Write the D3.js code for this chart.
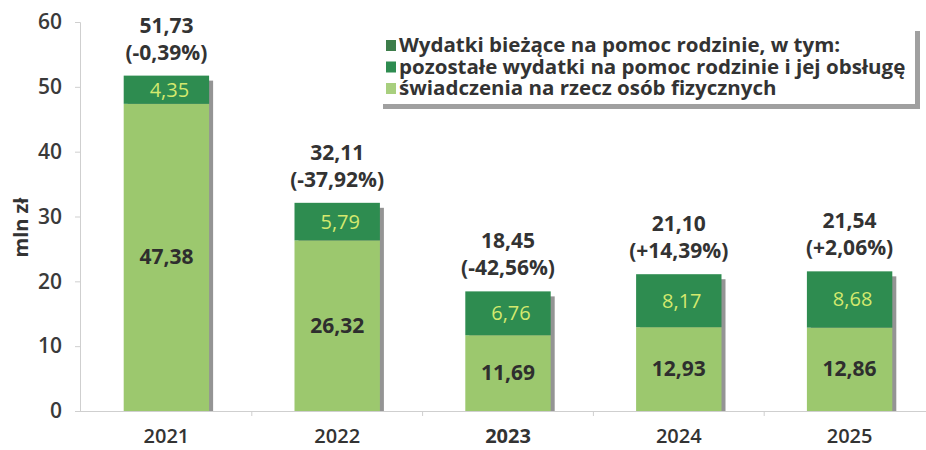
<!DOCTYPE html>
<html>
<head>
<meta charset="utf-8">
<script src="https://cdn.jsdelivr.net/npm/d3@7"></script>
<style>
  body { margin: 0; background: #fff; }
  text { font-family: "Open Sans", sans-serif; }
</style>
</head>
<body>
<div id="chart"></div>
<script>
// data
const years = ["2021", "2022", "2023", "2024", "2025"];
const benefits = [47.38, 26.32, 11.69, 12.93, 12.86];   // świadczenia na rzecz osób fizycznych
const otherCosts = [4.35, 5.79, 6.76, 8.17, 8.68];      // pozostałe wydatki
const totals = ["51,73", "32,11", "18,45", "21,10", "21,54"];
const changes = ["(-0,39%)", "(-37,92%)", "(-42,56%)", "(+14,39%)", "(+2,06%)"];
const yTicks = [0, 10, 20, 30, 40, 50, 60];
const legendLabels = [
  "Wydatki bieżące na pomoc rodzinie, w tym:",
  "pozostałe wydatki na pomoc rodzinie i jej obsługę",
  "świadczenia na rzecz osób fizycznych"
];

const W = 926, H = 450;
const margin = {top: 22, right: 0, bottom: 39, left: 80};

const svg = d3.select("#chart").append("svg")
  .attr("width", W).attr("height", H);

const fmt = v => v.toFixed(2).replace(".", ",");

const x = d3.scaleBand().domain(years)
  .range([81, 935]).paddingInner(0.5).paddingOuter(0.25);
const y = d3.scaleLinear().domain([0, 60]).range([H - margin.bottom, margin.top]);

const darkGreen = "#2e8c50";
const lightGreen = "#9cc86e";
const axisGrey = "#cfcfcf";

// y axis
const yAxis = svg.append("g")
  .attr("transform", "translate(" + margin.left + ",0)")
  .call(d3.axisLeft(y).tickValues(yTicks).tickSize(5).tickPadding(13));
yAxis.select(".domain").attr("stroke", axisGrey);
yAxis.selectAll(".tick line").attr("stroke", axisGrey);
yAxis.selectAll(".tick text")
  .style("font-size", "21px").style("font-weight", 600).attr("fill", "#3a3a3a");

svg.append("text")
  .attr("transform", "translate(28," + y(28.3) + ") rotate(-90)")
  .attr("text-anchor", "middle")
  .style("font-size", "20px").style("font-weight", 700).attr("fill", "#333")
  .text("mln zł");

// x axis
const xAxis = svg.append("g")
  .attr("transform", "translate(0," + y(0) + ")")
  .call(d3.axisBottom(x).tickSize(0).tickPadding(18));
xAxis.select(".domain").attr("stroke", axisGrey).attr("d", "M" + margin.left + ",0.5H935");
xAxis.selectAll(".tick text")
  .style("font-size", "20px").style("font-weight", d => d === "2023" ? 700 : 600)
  .attr("fill", "#333");
// boundary ticks between categories
const step = x.step();
svg.append("g").selectAll("line")
  .data(years.slice(1))
  .join("line")
  .attr("x1", d => x(d) - (step - x.bandwidth()) / 2)
  .attr("x2", d => x(d) - (step - x.bandwidth()) / 2)
  .attr("y1", y(0)).attr("y2", y(0) + 5)
  .attr("stroke", axisGrey);

// bars
const bars = svg.append("g").selectAll("g")
  .data(years.map((yr, i) => ({yr, b: benefits[i], o: otherCosts[i], t: totals[i], c: changes[i]})))
  .join("g");

// shadow
bars.append("rect")
  .attr("x", d => x(d.yr) + 4)
  .attr("y", d => y(d.b + d.o) + 5)
  .attr("width", x.bandwidth())
  .attr("height", d => y(0) - y(d.b + d.o) - 5)
  .attr("fill", "#707070").attr("opacity", 0.75);

bars.append("rect")
  .attr("x", d => x(d.yr))
  .attr("y", d => y(d.b))
  .attr("width", x.bandwidth())
  .attr("height", d => y(0) - y(d.b))
  .attr("fill", lightGreen);

bars.append("rect")
  .attr("x", d => x(d.yr))
  .attr("y", d => y(d.b + d.o))
  .attr("width", x.bandwidth())
  .attr("height", d => y(d.b) - y(d.b + d.o))
  .attr("fill", darkGreen);

// segment labels
bars.append("text")
  .attr("x", d => x(d.yr) + x.bandwidth() / 2)
  .attr("y", d => y(d.b / 2) + 7)
  .attr("text-anchor", "middle")
  .style("font-size", "21px").style("font-weight", 700).attr("fill", "#2e2e2e")
  .text(d => fmt(d.b));

bars.append("text")
  .attr("x", d => x(d.yr) + x.bandwidth() / 2 + 3)
  .attr("y", d => y(d.b + d.o / 2) + 7)
  .attr("text-anchor", "middle")
  .style("font-size", "20px").attr("fill", "#d4e96e")
  .text(d => fmt(d.o));

// total labels
bars.append("text")
  .attr("x", d => x(d.yr) + x.bandwidth() / 2)
  .attr("y", d => y(d.b + d.o) - 43)
  .attr("text-anchor", "middle")
  .style("font-size", "21px").style("font-weight", 700).attr("fill", "#333")
  .text(d => d.t);

bars.append("text")
  .attr("x", d => x(d.yr) + x.bandwidth() / 2)
  .attr("y", d => y(d.b + d.o) - 16)
  .attr("text-anchor", "middle")
  .style("font-size", "21px").style("font-weight", 700).attr("fill", "#333")
  .text(d => d.c);

// legend
const lg = svg.append("g").attr("transform", "translate(378,26)");
lg.append("rect").attr("x", 5).attr("y", 5).attr("width", 537).attr("height", 78)
  .attr("fill", "#a0a0a0");
lg.append("rect").attr("width", 537).attr("height", 78).attr("fill", "#fff");
const legendColors = ["#3d7d4a", darkGreen, "#a8cf7e"];
legendLabels.forEach((lab, i) => {
  const row = lg.append("g").attr("transform", "translate(8," + (26 + i * 21.5) + ")");
  row.append("rect").attr("x", 0).attr("y", -12).attr("width", 10).attr("height", 11)
    .attr("fill", legendColors[i]);
  // the source font is wider than Open Sans: stretch horizontally
  row.append("text").attr("transform", "translate(13,0) scale(1.08,1)")
    .style("font-size", "19px").style("font-weight", 700).attr("fill", "#333")
    .text(lab);
});
</script>
</body>
</html>
